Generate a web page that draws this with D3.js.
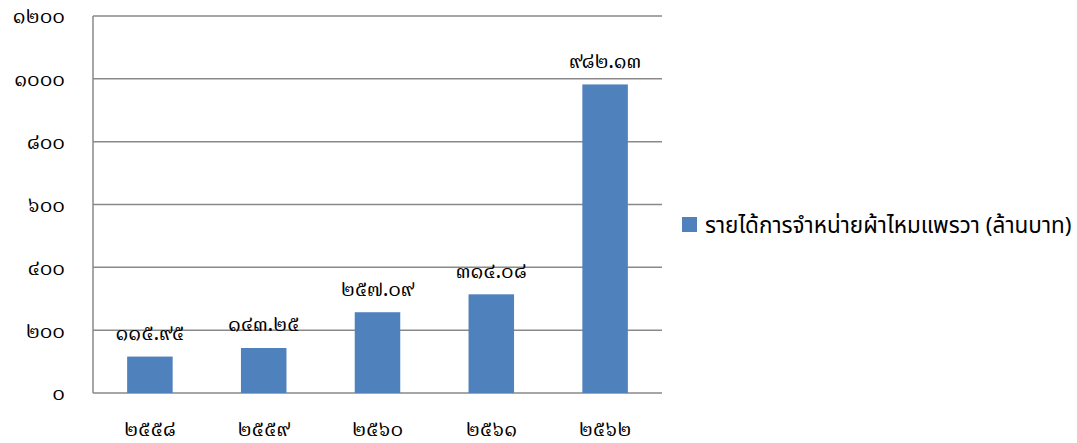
<!DOCTYPE html>
<html>
<head>
<meta charset="utf-8">
<script src="https://cdn.jsdelivr.net/npm/d3@7"></script>
<style>
  body { margin: 0; background: #fff; }
  svg text { fill: #000; }
  .num { font-family: "Noto Serif Thai", "Noto Sans Thai", serif; font-size: 21px; }
  .legend-text { font-family: "Noto Sans Thai", "Noto Sans", sans-serif; font-size: 22.5px; }
</style>
</head>
<body>
<svg id="chart" width="1077" height="443"></svg>
<script>
const years = ["๒๕๕๘", "๒๕๕๙", "๒๕๖๐", "๒๕๖๑", "๒๕๖๒"];
const values = [115.95, 143.25, 257.09, 314.08, 982.13];
const valueLabels = ["๑๑๕.๙๕", "๑๔๓.๒๕", "๒๕๗.๐๙", "๓๑๔.๐๘", "๙๘๒.๑๓"];
const yTicks = [0, 200, 400, 600, 800, 1000, 1200];
const yTickLabels = ["๐", "๒๐๐", "๔๐๐", "๖๐๐", "๘๐๐", "๑๐๐๐", "๑๒๐๐"];
const seriesName = "รายได้การจำหน่ายผ้าไหมแพรวา (ล้านบาท)";

const svg = d3.select("#chart");
const plot = { left: 93, right: 662, top: 16, bottom: 393 };
const color = "#4f81bd";
const gridColor = "#898989";

const x = d3.scaleBand().domain(years).range([plot.left, plot.right]).paddingInner(0.6).paddingOuter(0.3);
const y = d3.scaleLinear().domain([0, 1200]).range([plot.bottom, plot.top]);

// gridlines
svg.append("g")
  .selectAll("line")
  .data(yTicks)
  .join("line")
  .attr("x1", plot.left).attr("x2", plot.right)
  .attr("y1", d => y(d)).attr("y2", d => y(d))
  .attr("stroke", gridColor)
  .attr("stroke-width", 1.5);

// left axis line
svg.append("line")
  .attr("x1", plot.left).attr("x2", plot.left)
  .attr("y1", plot.top).attr("y2", plot.bottom)
  .attr("stroke", gridColor)
  .attr("stroke-width", 1.5);

// y tick labels
svg.append("g")
  .selectAll("text")
  .data(yTicks)
  .join("text")
  .attr("class", "num")
  .attr("x", 65)
  .attr("y", d => y(d))
  .attr("dy", "0.35em")
  .attr("text-anchor", "end")
  .text((d, i) => yTickLabels[i]);

// bars
svg.append("g")
  .selectAll("rect")
  .data(values)
  .join("rect")
  .attr("x", (d, i) => x(years[i]))
  .attr("y", d => y(d))
  .attr("width", x.bandwidth())
  .attr("height", d => y(0) - y(d))
  .attr("fill", color);

// value labels
svg.append("g")
  .selectAll("text")
  .data(values)
  .join("text")
  .attr("class", "num")
  .attr("x", (d, i) => x(years[i]) + x.bandwidth() / 2)
  .attr("y", d => y(d) - 24)
  .attr("dy", "0.35em")
  .attr("text-anchor", "middle")
  .text((d, i) => valueLabels[i]);

// x labels
svg.append("g")
  .selectAll("text")
  .data(years)
  .join("text")
  .attr("class", "num")
  .attr("x", d => x(d) + x.bandwidth() / 2)
  .attr("y", 429)
  .attr("dy", "0.35em")
  .attr("text-anchor", "middle")
  .text(d => d);

// legend
const legend = svg.append("g").attr("transform", "translate(682,217)");
legend.append("rect").attr("width", 15).attr("height", 15).attr("fill", color);
legend.append("text")
  .attr("class", "legend-text")
  .attr("x", 23).attr("y", 8)
  .attr("dy", "0.35em")
  .text(seriesName);
</script>
</body>
</html>
